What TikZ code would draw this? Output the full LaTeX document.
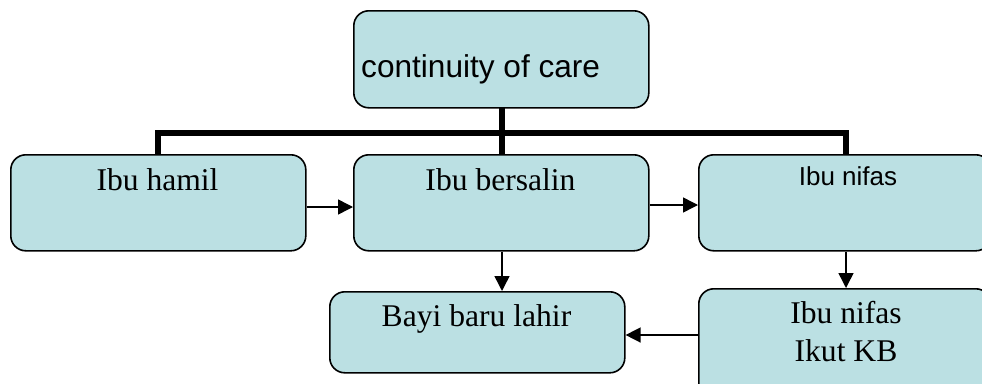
\documentclass[tikz,border=0pt]{standalone}
\usepackage{fontspec}
\setmainfont{Liberation Serif}
\newfontfamily\arialf{Liberation Sans}
\usetikzlibrary{arrows.meta}
\definecolor{boxfill}{HTML}{BBE0E3}
\begin{document}
\begin{tikzpicture}[x=1pt,y=-1pt,
  boxnode/.style={draw=black,line width=1.6pt,fill=boxfill,rounded corners=15pt,inner sep=0pt,anchor=north west},
  serif/.style={inner sep=0pt,anchor=base,font=\fontsize{31.6}{37}\selectfont},
  sans/.style={inner sep=0pt,font=\arialf\fontsize{31.6}{37}\selectfont},
  sanssmall/.style={inner sep=0pt,anchor=base,font=\arialf\fontsize{26}{31}\selectfont},
  arr/.style={line width=1.5pt,-{Triangle[length=15pt,width=15pt]}},
  bus/.style={line width=6pt,line join=miter}]
\useasboundingbox (0,0) rectangle (982,383);
\clip (0,0) rectangle (982,383);
% connectors behind
\coordinate (j) at (502,133);
\draw[bus] (502,107) -- (502,154);
\draw[bus] (158,154) -- (158,133) -- (846,133) -- (846,154);
% boxes
\node[boxnode,minimum width=295pt,minimum height=97pt] (top) at (353,10) {};
\node[boxnode,minimum width=295pt,minimum height=96pt] (hamil) at (10,154) {};
\node[boxnode,minimum width=295pt,minimum height=96pt] (bersalin) at (353,154) {};
\node[boxnode,minimum width=292pt,minimum height=96pt] (nifas) at (698,154) {};
\node[boxnode,minimum width=295pt,minimum height=81pt] (bayi) at (329,291) {};
\node[boxnode,minimum width=292pt,minimum height=112pt] (kb) at (698,288) {};
% texts
\node[sans,anchor=base west] (ttop) at (361,77) {continuity of care};
\node[serif] (thamil) at (157.5,190) {Ibu hamil};
\node[serif] (tbersalin) at (500.5,190) {Ibu bersalin};
\node[sanssmall] (tnifas) at (848,185) {Ibu nifas};
\node[serif] (tbayi) at (476.5,326) {Bayi baru lahir};
\node[serif] (tkb1) at (846,323) {Ibu nifas};
\node[serif] (tkb2) at (846,361) {Ikut KB};
% arrows
\draw[arr] (hamil.east |- 0,207) -- (bersalin.west |- 0,207);
\draw[arr] (bersalin.east |- 0,205) -- (nifas.west |- 0,205);
\draw[arr] (bersalin.south -| 502,0) -- (bayi.north -| 502,0);
\draw[arr] (nifas.south -| 846,0) -- (kb.north -| 846,0);
\draw[arr] (kb.west |- 0,335) -- (bayi.east |- 0,335);
\end{tikzpicture}
\end{document}
